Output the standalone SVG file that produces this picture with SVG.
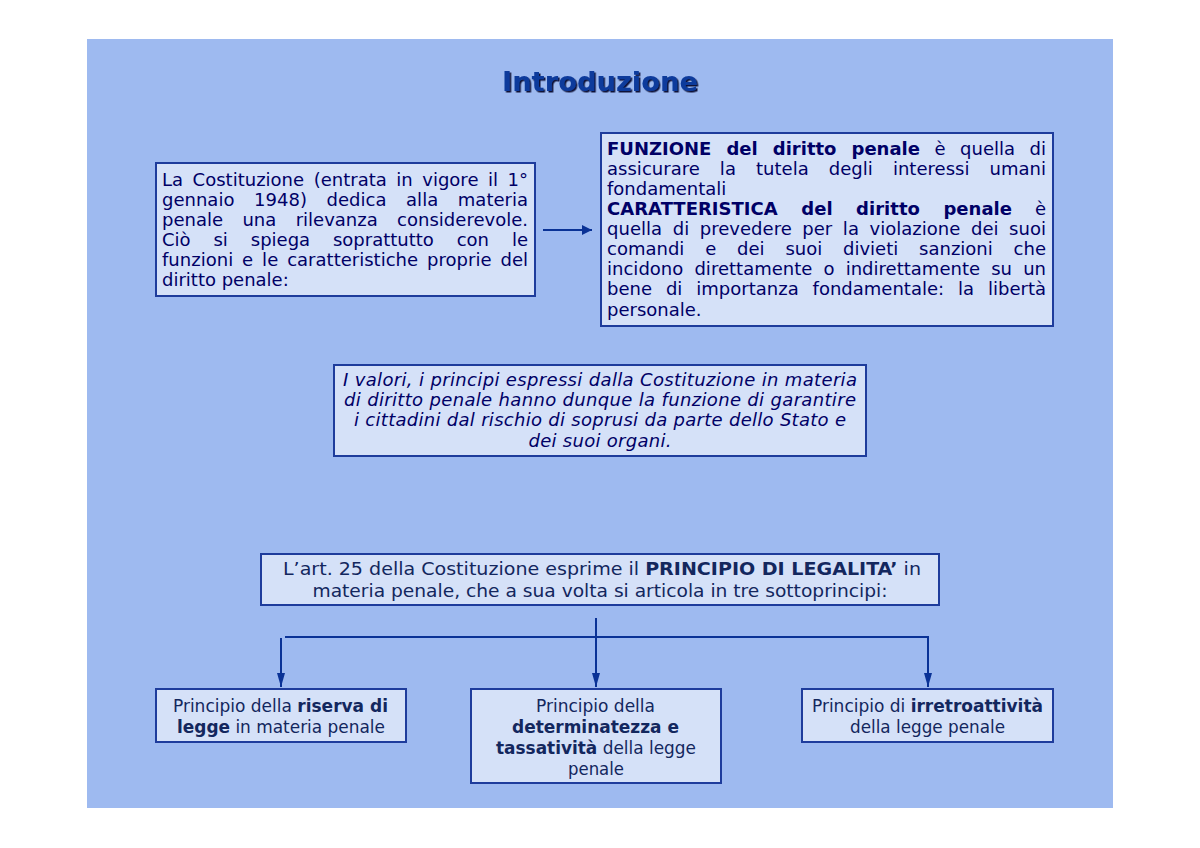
<svg xmlns="http://www.w3.org/2000/svg" width="1200" height="848" viewBox="0 0 1200 848">
<defs>
<style>
.box{fill:#D5E1F8;stroke:#1E3C9C;stroke-width:2}
.v{font-family:"DejaVu Sans","Verdana",sans-serif;font-size:18px;fill:#000066}
.b{font-weight:bold}
.it{font-style:italic}
.c{font-family:"DejaVu Sans Condensed","DejaVu Sans",sans-serif;font-size:17px;fill:#13275E}
.conn{stroke:#0A3296;stroke-width:2;fill:none}
</style>
<marker id="ah" viewBox="0 0 10 10" refX="10" refY="5" markerWidth="10" markerHeight="10" markerUnits="userSpaceOnUse" orient="auto">
<path d="M0,0 L10,5 L0,10 z" fill="#0A3296"/>
</marker>
<marker id="av" viewBox="0 0 14 8" refX="14" refY="4" markerWidth="14" markerHeight="8" markerUnits="userSpaceOnUse" orient="auto">
<path d="M0,0 L14,4 L0,8 z" fill="#0A3296"/>
</marker>
<filter id="sh" x="-5%" y="-20%" width="110%" height="150%">
<feDropShadow dx="1.5" dy="1.5" stdDeviation="0.3" flood-color="#000022" flood-opacity="0.9"/>
</filter>
</defs>
<rect x="0" y="0" width="1200" height="848" fill="#FFFFFF"/>
<rect x="87" y="39" width="1026" height="769" fill="#9EBAF0"/>

<g id="title">
<text x="600" y="91" text-anchor="middle" font-family="'DejaVu Sans',Verdana,sans-serif" font-weight="bold" font-size="26" fill="#0D3A9C" filter="url(#sh)" textLength="196" lengthAdjust="spacingAndGlyphs">Introduzione</text>
</g>

<g id="connectors">
<line class="conn" x1="543" y1="230" x2="592" y2="230" marker-end="url(#ah)"/>
<line class="conn" x1="596" y1="618" x2="596" y2="687" marker-end="url(#av)"/>
<line class="conn" x1="285" y1="637" x2="929" y2="637"/>
<line class="conn" x1="281" y1="638" x2="281" y2="687" marker-end="url(#av)"/>
<line class="conn" x1="928" y1="637" x2="928" y2="687" marker-end="url(#av)"/>
</g>

<g id="costituzione">
<rect class="box" x="156" y="163" width="379" height="133"/>
<text class="v" x="162" y="186" word-spacing="3.8" textLength="366" lengthAdjust="spacing">La Costituzione (entrata in vigore il 1°</text>
<text class="v" x="162" y="206" word-spacing="13.9" textLength="366" lengthAdjust="spacing">gennaio 1948) dedica alla materia</text>
<text class="v" x="162" y="226" word-spacing="13.6" textLength="366" lengthAdjust="spacing">penale una rilevanza considerevole.</text>
<text class="v" x="162" y="246" word-spacing="17.2" textLength="366" lengthAdjust="spacing">Ciò si spiega soprattutto con le</text>
<text class="v" x="162" y="266" word-spacing="3.2" textLength="366" lengthAdjust="spacing">funzioni e le caratteristiche proprie del</text>
<text class="v" x="162" y="286">diritto penale:</text>
</g>

<g id="funzione">
<rect class="box" x="601" y="133" width="452" height="193"/>
<text class="v" x="607" y="155" word-spacing="8.8" textLength="439" lengthAdjust="spacing"><tspan class="b">FUNZIONE del diritto penale</tspan> è quella di</text>
<text class="v" x="607" y="175" word-spacing="14.3" textLength="439" lengthAdjust="spacing">assicurare la tutela degli interessi umani</text>
<text class="v" x="607" y="195">fondamentali</text>
<text class="v" x="607" y="215" word-spacing="17.2" textLength="439" lengthAdjust="spacing"><tspan class="b">CARATTERISTICA del diritto penale</tspan> è</text>
<text class="v" x="607" y="235" word-spacing="4.8" textLength="439" lengthAdjust="spacing">quella di prevedere per la violazione dei suoi</text>
<text class="v" x="607" y="255" word-spacing="15.1" textLength="439" lengthAdjust="spacing">comandi e dei suoi divieti sanzioni che</text>
<text class="v" x="607" y="275" word-spacing="5.4" textLength="439" lengthAdjust="spacing">incidono direttamente o indirettamente su un</text>
<text class="v" x="607" y="295" word-spacing="8.2" textLength="439" lengthAdjust="spacing">bene di importanza fondamentale: la libertà</text>
<text class="v" x="607" y="316">personale.</text>
</g>

<g id="valori">
<rect class="box" x="334" y="365" width="532" height="91"/>
<text class="v it" x="600" y="386" text-anchor="middle" textLength="514" lengthAdjust="spacing">I valori, i principi espressi dalla Costituzione in materia</text>
<text class="v it" x="600" y="406" text-anchor="middle" textLength="512" lengthAdjust="spacing">di diritto penale hanno dunque la funzione di garantire</text>
<text class="v it" x="600" y="426" text-anchor="middle" textLength="492" lengthAdjust="spacing">i cittadini dal rischio di soprusi da parte dello Stato e</text>
<text class="v it" x="600" y="447" text-anchor="middle" textLength="143" lengthAdjust="spacing">dei suoi organi.</text>
</g>

<g id="legalita">
<rect class="box" x="261" y="554" width="678" height="51"/>
<text class="c" x="602" y="575" text-anchor="middle" font-size="18" textLength="638" lengthAdjust="spacingAndGlyphs">L’art. 25 della Costituzione esprime il <tspan class="b">PRINCIPIO DI LEGALITA’</tspan> in</text>
<text class="c" x="600" y="597" text-anchor="middle" font-size="18" textLength="575" lengthAdjust="spacingAndGlyphs">materia penale, che a sua volta si articola in tre sottoprincipi:</text>
</g>

<g id="riserva">
<rect class="box" x="156" y="689" width="250" height="53"/>
<text class="c" x="280.5" y="712" text-anchor="middle" textLength="215" lengthAdjust="spacingAndGlyphs">Principio della <tspan class="b">riserva di</tspan></text>
<text class="c" x="281" y="733" text-anchor="middle" textLength="208" lengthAdjust="spacingAndGlyphs"><tspan class="b">legge</tspan> in materia penale</text>
</g>

<g id="determinatezza">
<rect class="box" x="471" y="689" width="250" height="94"/>
<text class="c" x="595.5" y="712" text-anchor="middle" textLength="119" lengthAdjust="spacingAndGlyphs">Principio della</text>
<text class="c b" x="595.5" y="733" text-anchor="middle" textLength="167" lengthAdjust="spacingAndGlyphs">determinatezza e</text>
<text class="c" x="596" y="754" text-anchor="middle" textLength="200" lengthAdjust="spacingAndGlyphs"><tspan class="b">tassatività</tspan> della legge</text>
<text class="c" x="596" y="775" text-anchor="middle" textLength="56" lengthAdjust="spacingAndGlyphs">penale</text>
</g>

<g id="irretroattivita">
<rect class="box" x="802" y="689" width="251" height="53"/>
<text class="c" x="927.5" y="712" text-anchor="middle" textLength="231" lengthAdjust="spacingAndGlyphs">Principio di <tspan class="b">irretroattività</tspan></text>
<text class="c" x="927.5" y="733" text-anchor="middle" textLength="155" lengthAdjust="spacingAndGlyphs">della legge penale</text>
</g>
</svg>
